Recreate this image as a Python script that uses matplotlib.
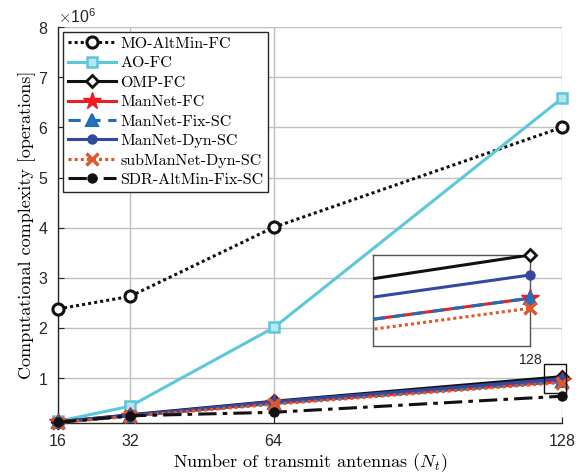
import matplotlib
matplotlib.use("Agg")
import matplotlib.pyplot as plt
from matplotlib.patches import Rectangle
import numpy as np

plt.rcParams["mathtext.fontset"] = "cm"
plt.rcParams["axes.formatter.use_mathtext"] = True

# Number of transmit antennas
Nt = [16, 32, 64, 128]
xticks = [16, 32, 64, 128]

# Computational complexity [operations]
mo_altmin_fc = [2.38e6, 2.63e6, 4.01e6, 6.00e6]
ao_fc = [0.14e6, 0.44e6, 2.01e6, 6.58e6]
omp_fc = [0.13e6, 0.27e6, 0.54e6, 1.03e6]
mannet_fc = [0.12e6, 0.25e6, 0.50e6, 0.935e6]
mannet_fix_sc = [0.12e6, 0.25e6, 0.50e6, 0.935e6]
mannet_dyn_sc = [0.13e6, 0.26e6, 0.53e6, 0.986e6]
submannet_dyn_sc = [0.11e6, 0.24e6, 0.48e6, 0.913e6]
sdr_altmin_fix_sc = [0.12e6, 0.25e6, 0.32e6, 0.64e6]

labels = ["MO-AltMin-FC", "AO-FC", "OMP-FC", "ManNet-FC", "ManNet-Fix-SC",
          "ManNet-Dyn-SC", "subManNet-Dyn-SC", "SDR-AltMin-Fix-SC"]

series = [mo_altmin_fc, ao_fc, omp_fc, mannet_fc, mannet_fix_sc,
          mannet_dyn_sc, submannet_dyn_sc, sdr_altmin_fix_sc]

styles = [
    dict(color="#111111", ls=(0, (1, 1)), marker="o", ms=8, mfc="white", mec="#111111", mew=2.2),
    dict(color="#5BC8DC", ls="-", marker="s", ms=7.5, mfc="#B8E6EF", mec="#5BC8DC", mew=1.8),
    dict(color="#111111", ls="-", marker="D", ms=6.5, mfc="white", mec="#111111", mew=2.0),
    dict(color="#EE1C25", ls="-", marker="*", ms=13, mfc="#EE1C25", mec="#EE1C25", mew=1.0),
    dict(color="#1F6FB8", ls=(0, (4, 2.5)), marker="^", ms=8, mfc="#2A6FC0", mec="#1F6FB8", mew=1.5),
    dict(color="#3548A0", ls="-", marker="o", ms=6.5, mfc="#3548A0", mec="#3548A0", mew=1.0),
    dict(color="#E2572A", ls=(0, (1, 1)), marker="x", ms=8, mfc="none", mec="#E2572A", mew=2.5),
    dict(color="#111111", ls=(0, (6, 2, 1.5, 2)), marker="o", ms=6.5, mfc="#111111", mec="#111111", mew=1.0),
]

fig = plt.figure(figsize=(5.83, 4.74), dpi=100)
ax = fig.add_axes([0.0995, 0.108, 0.8645, 0.835])

for y, lab, st in zip(series, labels, styles):
    ax.plot(Nt, y, label=lab, lw=2.2, color=st["color"], ls=st["ls"],
            marker=st["marker"], ms=st["ms"], mfc=st["mfc"], mec=st["mec"],
            mew=st["mew"], clip_on=False, zorder=3)

# Tight lower limit at the smallest value, top at 8e6
ymin = min(min(s) for s in series)
ax.set_xlim(16, 128)
ax.set_ylim(ymin, 8e6)
ax.set_xticks(xticks)
ax.set_yticks(np.arange(1e6, 9e6, 1e6))
ax.grid(True, color="#C0C0C0", lw=1.0)
ax.set_axisbelow(True)
for s in ["top", "right"]:
    ax.spines[s].set_visible(False)
for s in ["left", "bottom"]:
    ax.spines[s].set_color("#262626")
    ax.spines[s].set_linewidth(1.0)
ax.tick_params(direction="in", length=4, colors="#262626", labelsize=11.5,
               pad=7, top=False, right=False)
for t in ax.get_xticklabels() + ax.get_yticklabels():
    t.set_fontfamily("Liberation Sans")
ax.yaxis.get_offset_text().set_fontfamily("Liberation Sans")
ax.yaxis.get_offset_text().set_fontsize(11.5)

ax.set_xlabel(r"Number of transmit antennas ($N_t$)", fontfamily="cmr10",
              fontsize=13, labelpad=2)
ax.set_ylabel("Computational complexity [operations]", fontfamily="cmr10",
              fontsize=13, labelpad=1)

leg = ax.legend(loc="upper left", bbox_to_anchor=(0.0, 1.0), frameon=True,
                fancybox=False, edgecolor="#262626", framealpha=1,
                prop={"family": "cmr10", "size": 11.5}, handlelength=3.0,
                handletextpad=0.3, labelspacing=0.33, borderpad=0.3,
                borderaxespad=0.3)
leg.get_frame().set_linewidth(1.0)

# Zoom box around the Nt = 128 cluster
box_x0, box_x1 = 124.0, 128.9
box_y0, box_y1 = 0.71e6, 1.29e6
ax.add_patch(Rectangle((box_x0, box_y0), box_x1 - box_x0, box_y1 - box_y0,
                       fill=False, ec="#111111", lw=1.0, clip_on=False, zorder=5))

# Inset magnifying the cluster near Nt = 128
axin = fig.add_axes([0.640, 0.270, 0.269, 0.192])
zoom_idx = [2, 3, 4, 5, 6]
for i in zoom_idx:
    st = styles[i]
    axin.plot(Nt, series[i], lw=2.2, color=st["color"], ls=st["ls"], zorder=3)
    axin.plot(Nt[-1:], series[i][-1:], ls="none", marker=st["marker"], ms=st["ms"],
              mfc=st["mfc"], mec=st["mec"], mew=st["mew"], clip_on=False, zorder=4)
axin.set_xlim(121.2, 128)
axin.set_ylim(0.83e6, 1.03e6)
axin.set_xticks([128])
axin.set_yticks([])
axin.tick_params(direction="in", length=3, colors="#262626", labelsize=10, pad=5)
for t in axin.get_xticklabels():
    t.set_fontfamily("Liberation Sans")
for s in axin.spines.values():
    s.set_color("#555555")
    s.set_linewidth(1.0)
axin.set_facecolor("white")

fig.savefig("out.png", dpi=100)
